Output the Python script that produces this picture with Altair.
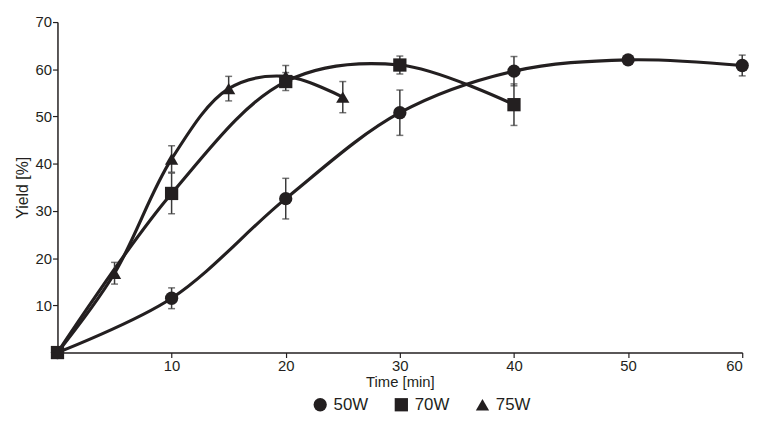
import altair as alt
import pandas as pd

series = ["50W", "70W", "75W"]
time_50 = [0, 10, 20, 30, 40, 50, 60]
yield_50 = [0, 11.5, 32.6, 50.8, 59.6, 62.0, 60.8]
err_50 = [0, 2.2, 4.3, 4.8, 3.1, 0, 2.2]
time_70 = [0, 10, 20, 30, 40]
yield_70 = [0, 33.7, 57.4, 60.9, 52.5]
err_70 = [0, 4.3, 1.9, 1.9, 4.4]
time_75 = [0, 5, 10, 15, 20, 25]
yield_75 = [0, 16.8, 41.0, 55.9, 58.5, 54.1]
err_75 = [0, 2.3, 2.8, 2.6, 2.3, 3.3]

x_ticks = [10, 20, 30, 40, 50, 60]
y_ticks = [10, 20, 30, 40, 50, 60, 70]

rows = []
for name, ts, ys, es in zip(series, [time_50, time_70, time_75],
                            [yield_50, yield_70, yield_75],
                            [err_50, err_70, err_75]):
    for i, (t, y, e) in enumerate(zip(ts, ys, es)):
        rows.append({"series": name, "time": t, "yield": y, "err": e,
                     "lo": y - e, "hi": y + e, "order": i})
df = pd.DataFrame(rows)

INK = "#231f20"

x_scale = alt.Scale(domain=[0, 60], nice=False)
y_scale = alt.Scale(domain=[0, 70], nice=False)
x_axis = alt.Axis(values=x_ticks, title="Time [min]", grid=False)
y_axis = alt.Axis(values=y_ticks, title="Yield [%]", grid=False)


def X():
    return alt.X("time:Q", scale=x_scale, axis=x_axis, title="Time [min]")


def Y(field):
    return alt.Y(f"{field}:Q", scale=y_scale, axis=y_axis, title="Yield [%]")


base = alt.Chart(df)

lines = base.mark_line(interpolate="catmull-rom", strokeWidth=3.2, color=INK).encode(
    x=X(), y=Y("yield"), detail="series:N", order="order:Q"
)

errs = base.transform_filter("datum.err > 0")

rules = errs.mark_rule(color="#3a3a3a", strokeWidth=1.5).encode(
    x=X(), y=Y("lo"), y2="hi:Q"
)
cap_top = errs.mark_tick(orient="horizontal", size=7, thickness=1.5, color="#3a3a3a").encode(
    x=X(), y=Y("hi")
)
cap_bot = errs.mark_tick(orient="horizontal", size=7, thickness=1.5, color="#3a3a3a").encode(
    x=X(), y=Y("lo")
)

points = base.mark_point(filled=True, size=180, opacity=1, color=INK).encode(
    x=X(),
    y=Y("yield"),
    shape=alt.Shape(
        "series:N",
        scale=alt.Scale(domain=series, range=["circle", "square", "triangle-up"]),
        legend=alt.Legend(
            title=None, orient="none", direction="horizontal",
            legendX=257, legendY=378, columnPadding=25,
            labelFontSize=17, labelFont="Liberation Sans", labelColor=INK,
            symbolSize=180, symbolFillColor=INK, symbolStrokeWidth=0,
            symbolType="circle", labelOffset=5,
        ),
    ),
)

chart = alt.layer(lines, rules, cap_top, cap_bot, points).properties(
    width=692, height=334,
    autosize=alt.AutoSizeParams(type="none"),
    padding={"left": 50, "top": 12, "right": 21, "bottom": 70},
    background="white",
).configure_view(stroke=None).configure_axis(
    labelFont="Liberation Sans", labelFontSize=15, labelColor=INK,
    titleFont="Liberation Sans", titleFontWeight="normal", titleColor=INK,
    domainColor=INK, domainWidth=1.5, tickColor=INK, tickWidth=1.2, tickSize=5,
    labelPadding=1,
).configure_axisX(titlePadding=1, titleFontSize=15).configure_axisY(titlePadding=5, titleFontSize=16)

chart.save("out.html", embed_options={"renderer": "svg", "actions": False})
